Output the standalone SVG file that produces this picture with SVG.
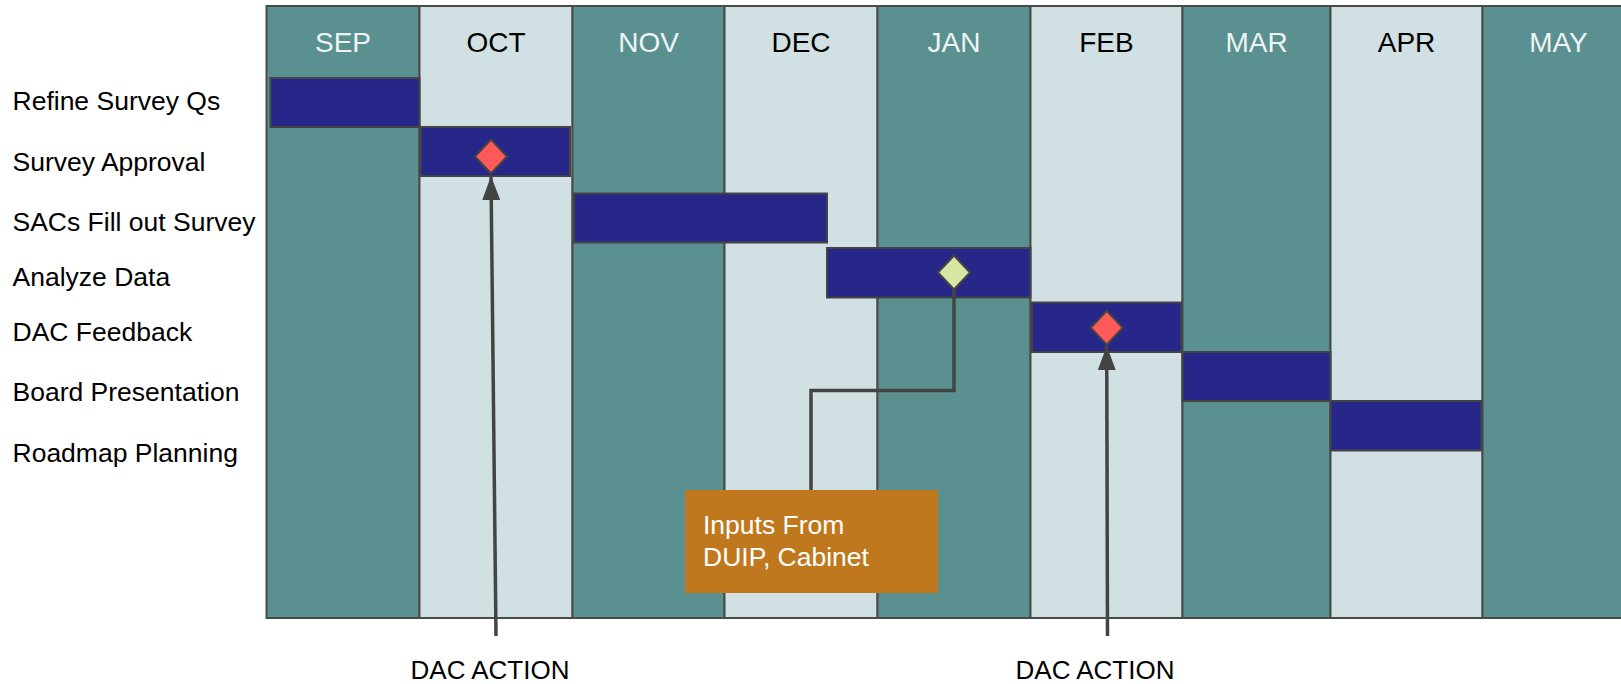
<svg xmlns="http://www.w3.org/2000/svg" width="1621" height="684" viewBox="0 0 1621 684">
<defs>
<style>
.dark{fill:#5a9090;stroke:#4a4a4a;stroke-width:2}
.light{fill:#d1e0e3;stroke:#4a4a4a;stroke-width:2}
.mdark{font-family:"Liberation Sans",Arial,sans-serif;font-size:28px;fill:#eef4f4;text-anchor:middle}
.mlight{font-family:"Liberation Sans",Arial,sans-serif;font-size:28px;fill:#000;text-anchor:middle}
.row{font-family:"Liberation Sans",Arial,sans-serif;font-size:26.5px;fill:#000}
.bar{fill:#27278a;stroke:#444;stroke-width:2}
.dia{stroke:#444;stroke-width:2}
.conn{fill:none;stroke:#444;stroke-width:3.5}
.lbl{font-family:"Liberation Sans",Arial,sans-serif;font-size:26px;fill:#000;text-anchor:middle}
.box{fill:#c0781e}
.boxt{font-family:"Liberation Sans",Arial,sans-serif;font-size:26.5px;fill:#fff}
</style>
<marker id="ah" markerUnits="userSpaceOnUse" markerWidth="26" markerHeight="20" refX="24" refY="9" orient="auto">
<path d="M0,0 L24,9 L0,18 z" fill="#444"/>
</marker>
</defs>
<rect width="1621" height="684" fill="#fff"/>
<g id="grid">
<rect class="dark" x="266.5" y="6" width="153" height="612"/>
<rect class="light" x="419.5" y="6" width="153" height="612"/>
<rect class="dark" x="572.5" y="6" width="152" height="612"/>
<rect class="light" x="724.5" y="6" width="153" height="612"/>
<rect class="dark" x="877.5" y="6" width="153" height="612"/>
<rect class="light" x="1030.5" y="6" width="152" height="612"/>
<rect class="dark" x="1182.5" y="6" width="148" height="612"/>
<rect class="light" x="1330.5" y="6" width="152" height="612"/>
<rect class="dark" x="1482.5" y="6" width="150" height="612"/>
<text class="mdark" x="343" y="52">SEP</text>
<text class="mlight" x="496" y="52">OCT</text>
<text class="mdark" x="648.5" y="52">NOV</text>
<text class="mlight" x="801" y="52">DEC</text>
<text class="mdark" x="954" y="52">JAN</text>
<text class="mlight" x="1106.5" y="52">FEB</text>
<text class="mdark" x="1256.5" y="52">MAR</text>
<text class="mlight" x="1406.5" y="52">APR</text>
<text class="mdark" x="1558.5" y="52">MAY</text>
</g>
<g id="labels">
<text class="row" x="12.5" y="110">Refine Survey Qs</text>
<text class="row" x="12.5" y="171">Survey Approval</text>
<text class="row" x="12.5" y="231">SACs Fill out Survey</text>
<text class="row" x="12.5" y="286">Analyze Data</text>
<text class="row" x="12.5" y="341">DAC Feedback</text>
<text class="row" x="12.5" y="401">Board Presentation</text>
<text class="row" x="12.5" y="462">Roadmap Planning</text>
</g>
<g id="task-refine"><rect class="bar" x="270.5" y="78" width="149" height="49"/></g>
<g id="task-approval"><rect class="bar" x="420.5" y="127" width="149.5" height="49"/></g>
<g id="task-sacs"><rect class="bar" x="574" y="193.5" width="253" height="49"/></g>
<g id="task-analyze"><rect class="bar" x="827" y="248" width="203.5" height="49.5"/></g>
<g id="task-dac"><rect class="bar" x="1032" y="302.5" width="149.5" height="49.5"/></g>
<g id="task-board"><rect class="bar" x="1182.5" y="352" width="148" height="49"/></g>
<g id="task-roadmap"><rect class="bar" x="1330.5" y="401" width="151" height="49.5"/></g>
<g id="inputs-box">
<rect class="box" x="685" y="490" width="253" height="103"/>
<text class="boxt" x="703" y="534">Inputs From</text>
<text class="boxt" x="703" y="566">DUIP, Cabinet</text>
</g>
<g id="connectors">
<line class="conn" x1="496" y1="636" x2="491" y2="176" marker-end="url(#ah)"/>
<line class="conn" x1="1107.5" y1="636" x2="1106.7" y2="346" marker-end="url(#ah)"/>
<polyline class="conn" points="954,289 954,390.5 811,390.5 811,490"/>
</g>
<g id="milestones">
<path class="dia" fill="#ff5a5a" d="M491,139.5 L507,156.5 L491,173.5 L475,156.5 z"/>
<path class="dia" fill="#d8e6a4" d="M954,255.5 L970,272.5 L954,289.5 L938,272.5 z"/>
<path class="dia" fill="#ff5a5a" d="M1106.7,310.7 L1122.7,327.7 L1106.7,344.7 L1090.7,327.7 z"/>
</g>
<g id="dac-labels">
<text class="lbl" x="490" y="679">DAC ACTION</text>
<text class="lbl" x="1095" y="679">DAC ACTION</text>
</g>
</svg>
